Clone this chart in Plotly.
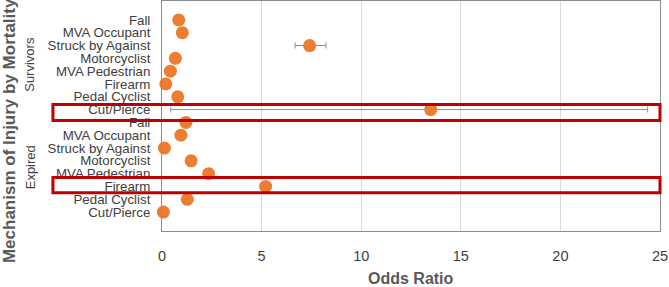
import plotly.graph_objects as go

mechanisms = ["Fall", "MVA Occupant", "Struck by Against", "Motorcyclist",
              "MVA Pedestrian", "Firearm", "Pedal Cyclist", "Cut/Pierce"]
groups = ["Survivors", "Expired"]

survivors_or = [0.84, 1.02, 7.41, 0.67, 0.42, 0.19, 0.79, 13.49]
survivors_lo = [0.84, 1.02, 6.68, 0.67, 0.42, 0.19, 0.79, 0.44]
survivors_hi = [0.84, 1.02, 8.23, 0.67, 0.42, 0.19, 0.79, 24.38]

expired_or = [1.20, 0.95, 0.12, 1.46, 2.34, 5.20, 1.27, 0.07]
expired_lo = [1.20, 0.95, 0.12, 1.46, 2.34, 5.20, 1.27, 0.07]
expired_hi = [1.20, 0.95, 0.12, 1.46, 2.34, 5.20, 1.27, 0.07]

x_ticks = [0, 5, 10, 15, 20, 25]

labels = mechanisms + mechanisms
ors = survivors_or + expired_or
los = survivors_lo + expired_lo
his = survivors_hi + expired_hi
ypos = list(range(1, len(labels) + 1))

fig = go.Figure()
fig.add_trace(go.Scatter(
    x=ors, y=ypos, mode="markers",
    marker=dict(color="#ED7D31", size=13, line=dict(width=0)),
    error_x=dict(type="data", symmetric=False,
                 array=[h - o for h, o in zip(his, ors)],
                 arrayminus=[o - l for o, l in zip(ors, los)],
                 color="#8C8C8C", thickness=1, width=3),
    showlegend=False, cliponaxis=False,
))

fig.update_layout(
    width=669, height=287,
    margin=dict(l=162, r=9, t=1, b=56, autoexpand=False),
    paper_bgcolor="white", plot_bgcolor="white",
    font=dict(family="Liberation Sans", color="#404040"),
    xaxis=dict(range=[0, 25], tickvals=x_ticks, ticktext=[str(v) for v in x_ticks],
               automargin=False,
               showgrid=True, gridcolor="#D9D9D9", gridwidth=1,
               zeroline=False, showline=True, linecolor="#8C8C8C", linewidth=1,
               mirror=True, ticks="outside", ticklen=12, tickcolor="rgba(0,0,0,0)",
               tickfont=dict(size=14.5, color="#404040")),
    yaxis=dict(range=[17.476, -0.476], tickvals=ypos, ticktext=labels,
               automargin=False,
               showgrid=False, zeroline=False, showline=True, linecolor="#8C8C8C",
               linewidth=1, mirror=True, ticks="outside", ticklen=8,
               tickcolor="rgba(0,0,0,0)",
               tickfont=dict(size=13.3, color="#404040")),
)

# group labels
for g, yc in zip(groups, [4.5, 12.5]):
    fig.add_annotation(text=g, xref="paper", yref="y", x=-0.265, y=yc,
                       xanchor="center", yanchor="middle",
                       textangle=-90, showarrow=False,
                       font=dict(size=13, color="#404040"))

# axis titles
fig.add_annotation(text="<b>Mechanism of Injury by Mortality</b>", xref="paper", yref="paper",
                   x=-0.305, y=0.435, xanchor="center", yanchor="middle",
                   textangle=-90, showarrow=False,
                   font=dict(size=17, color="#595959"))
fig.add_annotation(text="<b>Odds Ratio</b>", xref="paper", yref="paper",
                   x=0.5, y=-0.205, xanchor="center", yanchor="middle",
                   showarrow=False,
                   font=dict(size=16, color="#595959"))

# highlight boxes
for y0, y1 in [(7.61, 8.85), (13.30, 14.50)]:
    fig.add_shape(type="rect", xref="paper", yref="y", x0=-0.219, x1=1.0,
                  y0=y0, y1=y1, line=dict(color="#C00000", width=3),
                  fillcolor="rgba(0,0,0,0)", layer="above")

fig.write_html("out.html", config={"displayModeBar": False},
               post_script="document.body.style.margin='0';document.body.style.padding='0';")
